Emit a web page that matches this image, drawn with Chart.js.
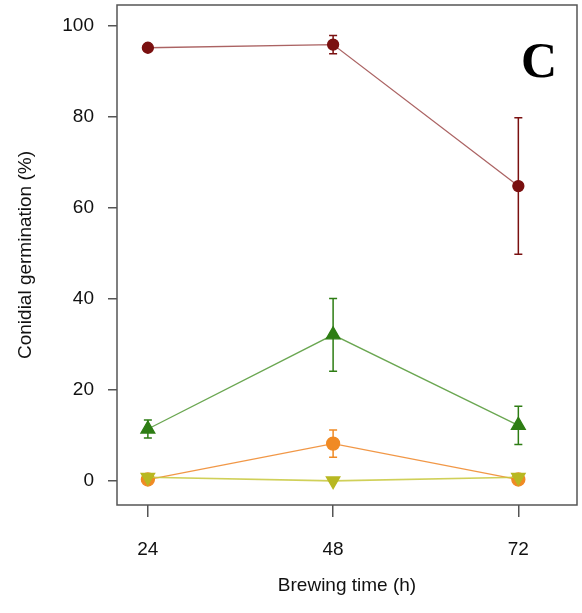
<!DOCTYPE html>
<html>
<head>
<meta charset="utf-8">
<script src="https://cdn.jsdelivr.net/npm/chart.js@4"></script>
<style>
  html, body { margin: 0; padding: 0; background: #fff; }
  #wrap { width: 582px; height: 613px; }
</style>
</head>
<body>
<div id="wrap"><canvas id="chart" width="582" height="613"></canvas></div>
<script>
'use strict';

// brewing time (h)
var hours = [24, 48, 72];
var yTicks = [0, 20, 40, 60, 80, 100];

// conidial germination (%) with error (+/-)
var redMean = [95.2, 95.9, 64.8];
var redErr = [0.6, 2.0, 15.0];
var greenMean = [11.4, 32.1, 12.2];
var greenErr = [2.0, 8.0, 4.2];
var orangeMean = [0.3, 8.2, 0.3];
var orangeErr = [0, 3.0, 0];
var yellowMean = [0.8, 0.0, 0.8];
var yellowErr = [0, 0, 0];

function points(means, errs) {
    var pts = [];
    for (var i = 0; i < hours.length; i++) {
        pts.push({ x: hours[i], y: means[i], err: errs[i] });
    }
    return pts;
}

var errorBars = {
    id: 'errorBars',
    beforeDatasetsDraw: function (chart) {
        var ctx = chart.ctx;
        var xs = chart.scales.x;
        var ys = chart.scales.y;
        chart.data.datasets.forEach(function (ds) {
            ctx.save();
            ctx.strokeStyle = ds.pointBackgroundColor;
            ctx.lineWidth = 1.5;
            ds.data.forEach(function (p) {
                if (!p.err) return;
                var x = xs.getPixelForValue(p.x);
                var top = ys.getPixelForValue(p.y + p.err);
                var bot = ys.getPixelForValue(p.y - p.err);
                ctx.beginPath();
                ctx.moveTo(x, top); ctx.lineTo(x, bot);
                ctx.moveTo(x - 4, top); ctx.lineTo(x + 4, top);
                ctx.moveTo(x - 4, bot); ctx.lineTo(x + 4, bot);
                ctx.stroke();
            });
            ctx.restore();
        });
    },
    afterDraw: function (chart) {
        var ctx = chart.ctx;
        var a = chart.chartArea;
        ctx.save();
        ctx.strokeStyle = '#555';
        ctx.lineWidth = 1.5;
        ctx.strokeRect(a.left, a.top, a.right - a.left, a.bottom - a.top);
        ctx.fillStyle = '#000';
        ctx.font = 'bold 50px "Liberation Serif", "DejaVu Serif", serif';
        ctx.textAlign = 'center';
        ctx.textBaseline = 'middle';
        ctx.fillText('C', 539, 64);
        ctx.restore();
    }
};

var ctx = document.getElementById('chart').getContext('2d');
new Chart(ctx, {
    type: 'line',
    data: {
        datasets: [
            {
                data: points(redMean, redErr),
                order: 3,
                borderColor: 'rgba(150, 60, 60, 0.8)',
                borderWidth: 1.3,
                pointBackgroundColor: '#7a1010',
                pointBorderColor: '#7a1010',
                pointStyle: 'circle',
                pointRadius: 5.5
            },
            {
                data: points(greenMean, greenErr),
                order: 2,
                borderColor: 'rgba(80, 150, 50, 0.85)',
                borderWidth: 1.3,
                pointBackgroundColor: '#2e7d14',
                pointBorderColor: '#2e7d14',
                pointStyle: 'triangle',
                pointRadius: 8
            },
            {
                data: points(orangeMean, orangeErr),
                order: 1,
                borderColor: 'rgba(240, 140, 50, 0.9)',
                borderWidth: 1.3,
                pointBackgroundColor: '#f08a24',
                pointBorderColor: '#f08a24',
                pointStyle: 'circle',
                pointRadius: 6.5
            },
            {
                data: points(yellowMean, yellowErr),
                order: 0,
                borderColor: 'rgba(200, 200, 60, 0.85)',
                borderWidth: 1.6,
                pointBackgroundColor: '#b8b822',
                pointBorderColor: '#b8b822',
                pointStyle: 'triangle',
                pointRotation: 180,
                pointRadius: 7.5
            }
        ]
    },
    options: {
        responsive: false,
        animation: false,
        layout: { autoPadding: false, padding: { top: 5, right: 5, left: 0, bottom: 0 } },
        plugins: {
            legend: { display: false },
            tooltip: { enabled: false }
        },
        scales: {
            x: {
                type: 'linear',
                min: 20,
                max: 79.6,
                afterBuildTicks: function (axis) {
                    axis.ticks = hours.map(function (v) { return { value: v }; });
                },
                afterFit: function (axis) {
                    axis.height = 108;
                    axis.paddingLeft = 0;
                    axis.paddingRight = 0;
                },
                border: { display: false },
                grid: {
                    drawOnChartArea: false,
                    drawTicks: true,
                    tickLength: 12,
                    color: '#555',
                    lineWidth: 1.5
                },
                ticks: {
                    color: '#111',
                    padding: 21,
                    maxRotation: 0,
                    font: { family: '"Liberation Sans", Arial, sans-serif', size: 19 }
                },
                title: {
                    display: true,
                    text: 'Brewing time (h)',
                    color: '#111',
                    padding: { top: 6, bottom: 16 },
                    font: { family: '"Liberation Sans", Arial, sans-serif', size: 19 }
                }
            },
            y: {
                min: -5.3,
                max: 104.6,
                afterBuildTicks: function (axis) {
                    axis.ticks = yTicks.map(function (v) { return { value: v }; });
                },
                afterFit: function (axis) {
                    axis.width = 117;
                    axis.paddingTop = 0;
                    axis.paddingBottom = 0;
                },
                border: { display: false },
                grid: {
                    drawOnChartArea: false,
                    drawTicks: true,
                    tickLength: 9,
                    color: '#555',
                    lineWidth: 1.5
                },
                ticks: {
                    color: '#111',
                    padding: 14,
                    font: { family: '"Liberation Sans", Arial, sans-serif', size: 19 }
                },
                title: {
                    display: true,
                    text: 'Conidial germination (%)',
                    color: '#111',
                    padding: { top: 14, bottom: 0 },
                    font: { family: '"Liberation Sans", Arial, sans-serif', size: 19 }
                }
            }
        }
    },
    plugins: [errorBars]
});
</script>
</body>
</html>
